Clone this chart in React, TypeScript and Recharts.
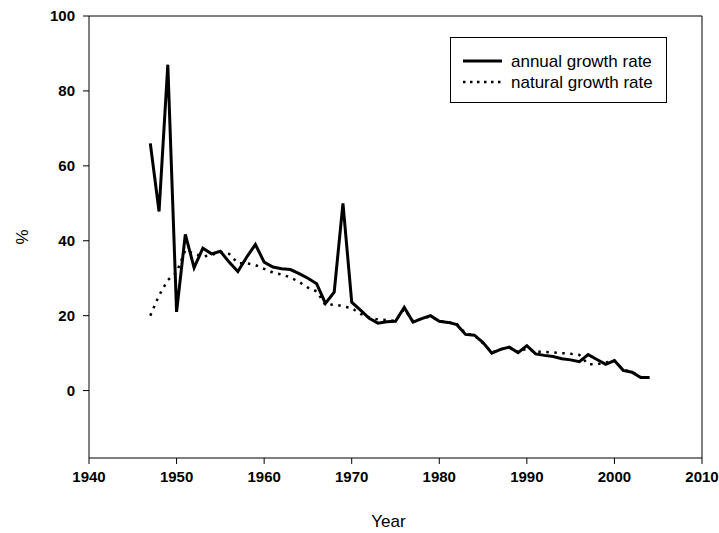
import React from 'react';
import { LineChart, Line, XAxis, YAxis, ReferenceLine, Legend } from 'recharts';

const years = [1947,1948,1949,1950,1951,1952,1953,1954,1955,1956,1957,1958,1959,1960,1961,1962,1963,1964,1965,1966,1967,1968,1969,1970,1971,1972,1973,1974,1975,1976,1977,1978,1979,1980,1981,1982,1983,1984,1985,1986,1987,1988,1989,1990,1991,1992,1993,1994,1995,1996,1997,1998,1999,2000,2001,2002,2003,2004];

const annualGrowth = [66,47.8,87,21,41.7,32.8,38,36.5,37.2,34.3,31.8,35.6,39,34.3,33,32.5,32.3,31.2,30,28.5,23.3,26.3,50,23.6,21.5,19.3,18,18.4,18.5,22.2,18.3,19.2,20,18.5,18.2,17.6,15,14.8,12.8,10,11,11.6,10.1,12,9.8,9.4,9.1,8.5,8.2,7.7,9.6,8.3,7.0,8.0,5.4,4.9,3.5,3.5];

const naturalGrowth = [20,25.4,29.5,31.5,37.5,36.5,35.8,36.2,37,36.5,34,34,33.5,32.5,31.5,31,30.2,29,27.5,26.5,22.8,23,22.5,22,20.5,19.5,19,18.8,18.6,21.8,18.5,19.2,19.8,18.6,18.3,17.8,15.2,14.8,12.6,10.2,11,11.5,10.3,11.2,10.4,10.3,10.2,10,9.8,9.5,7.0,7.0,7.5,8.0,5.5,5.0,3.6,3.4];

const xTicks = [1940,1950,1960,1970,1980,1990,2000,2010];
const yTicks = [0,20,40,60,80,100];

const seriesNames = ['annual growth rate', 'natural growth rate'];

const data = years.map((y, i) => ({ year: y, annual: annualGrowth[i], natural: naturalGrowth[i] }));

const FONT = 'Arial, "Liberation Sans", sans-serif';

const LegendBox = () => (
  <div style={{ width: 215, height: 64, border: '1px solid #000', background: '#fff', fontFamily: FONT, boxSizing: 'content-box' }}>
    <svg width={215} height={64} style={{ display: 'block' }}>
      <line x1={12} x2={51} y1={23} y2={23} stroke="#000" strokeWidth={3} />
      <text x={60} y={29} fontSize={17} fontFamily={FONT} fill="#000">{seriesNames[0]}</text>
      <line x1={12} x2={51} y1={44} y2={44} stroke="#000" strokeWidth={2.5} strokeDasharray="2.5 4.5" />
      <text x={60} y={50} fontSize={17} fontFamily={FONT} fill="#000">{seriesNames[1]}</text>
    </svg>
  </div>
);

const YLabel = (props: any) => {
  const vb = props.viewBox || {};
  const cy = vb.y + vb.height / 2;
  return (
    <text x={22} y={cy} transform={`rotate(-90, 22, ${cy})`} textAnchor="middle" dominantBaseline="central" fontSize={17} fontFamily={FONT} fill="#000">%</text>
  );
};

export default function App() {
  return (
    <div style={{ position: 'absolute', left: 0, top: 0, background: '#fff' }}>
      <LineChart width={719} height={533} data={data} margin={{ top: 16, right: 17, bottom: 0, left: 0 }}>
        <XAxis
          dataKey="year"
          type="number"
          domain={[1940, 2010]}
          ticks={xTicks}
          allowDataOverflow
          height={75}
          tickSize={6}
          tickMargin={7}
          stroke="#000"
          tick={{ fill: '#000', fontSize: 15, fontWeight: 'bold', fontFamily: FONT }}
          label={{ value: 'Year', position: 'insideBottom', offset: 6, dx: -7, fontSize: 17, fill: '#000', fontFamily: FONT }}
        />
        <YAxis
          type="number"
          domain={[-18, 100]}
          ticks={yTicks}
          allowDataOverflow
          width={89}
          tickSize={6}
          tickMargin={8}
          stroke="#000"
          tick={{ fill: '#000', fontSize: 15, fontWeight: 'bold', fontFamily: FONT }}
          label={<YLabel />}
        />
        <ReferenceLine y={100} stroke="#000" strokeWidth={1} />
        <ReferenceLine x={2010} stroke="#000" strokeWidth={1} />
        <Legend layout="vertical" align="center" verticalAlign="middle" content={<LegendBox />} wrapperStyle={{ position: 'absolute', left: 450, top: 37, width: 217, height: 66 }} />
        <Line type="linear" dataKey="natural" name={seriesNames[1]} stroke="#000" strokeWidth={2.5} strokeDasharray="2.5 5.5" dot={false} isAnimationActive={false} />
        <Line type="linear" dataKey="annual" name={seriesNames[0]} stroke="#000" strokeWidth={3} dot={false} isAnimationActive={false} />
      </LineChart>
    </div>
  );
}
